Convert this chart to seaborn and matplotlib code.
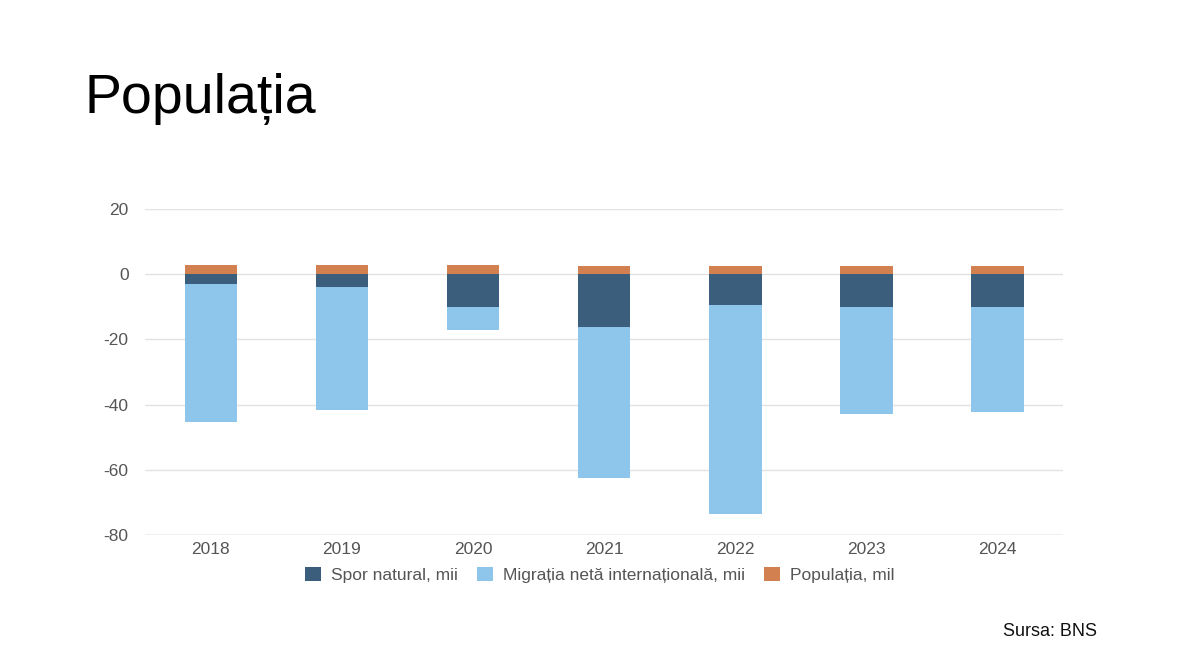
import pandas as pd
import matplotlib.pyplot as plt
import seaborn as sns
from matplotlib.patches import Patch

# ============= Date =============
years = ['2018', '2019', '2020', '2021', '2022', '2023', '2024']
spor_natural = [-2.9, -3.9, -10.0, -16.2, -9.6, -10.0, -10.0]      # mii
migratie_neta = [-42.3, -37.9, -7.2, -46.3, -64.1, -32.8, -32.3]   # mii
populatie = [2.7, 2.68, 2.64, 2.6, 2.6, 2.42, 2.4]                 # mil

labels = ['Spor natural, mii', 'Migrația netă internațională, mii', 'Populația, mil']
colors = ['#3b5e7d', '#8ec5ea', '#d2804f']

df = pd.DataFrame({
    'An': years,
    'Spor': spor_natural,
    'Migratie': migratie_neta,
    'Populatie': populatie,
})
# migratia e stivuita sub sporul natural
df['Total'] = df['Spor'] + df['Migratie']

sns.set_theme(style='white')
plt.rcParams['font.family'] = ['Liberation Sans', 'DejaVu Sans']
plt.rcParams['axes.unicode_minus'] = False

fig = plt.figure(figsize=(12, 6.63), dpi=100)
ax = fig.add_axes([0.121, 0.193, 0.765, 0.492])

bar_kw = dict(width=0.4, saturation=1, ax=ax, linewidth=0, edgecolor='none')
sns.barplot(data=df, x='An', y='Total', color=colors[1], zorder=3, **bar_kw)
sns.barplot(data=df, x='An', y='Spor', color=colors[0], zorder=4, **bar_kw)
sns.barplot(data=df, x='An', y='Populatie', color=colors[2], zorder=4, **bar_kw)

ax.set_ylim(-80, 20)
ax.set_xlim(-0.5, 6.5)
ax.set_yticks([20, 0, -20, -40, -60, -80])
ax.grid(axis='y', color='#e2e2e2', linewidth=1, zorder=0)
ax.set_axisbelow(True)
for s in ax.spines.values():
    s.set_visible(False)
ax.axhline(-80, color='#d0d0d0', linewidth=1, zorder=1)
ax.set_xlabel('')
ax.set_ylabel('')
ax.tick_params(axis='both', length=0, labelsize=12.5, colors='#555555')
ax.tick_params(axis='y', pad=12)
ax.tick_params(axis='x', pad=5)

handles = [Patch(facecolor=c, edgecolor='none') for c in colors]
fig.legend(handles, labels, loc='center', bbox_to_anchor=(0.5, 0.133), ncol=3,
           frameon=False, fontsize=12.5, labelcolor='#555555',
           handlelength=0.9, handleheight=0.9, handletextpad=0.6,
           columnspacing=1.1)

fig.text(0.07, 0.85, 'Populația', fontsize=40, color='black', va='center')
fig.text(0.836, 0.047, 'Sursa: BNS', fontsize=13, color='#111111', va='center')

fig.savefig('out.png', dpi=100, facecolor='white')
